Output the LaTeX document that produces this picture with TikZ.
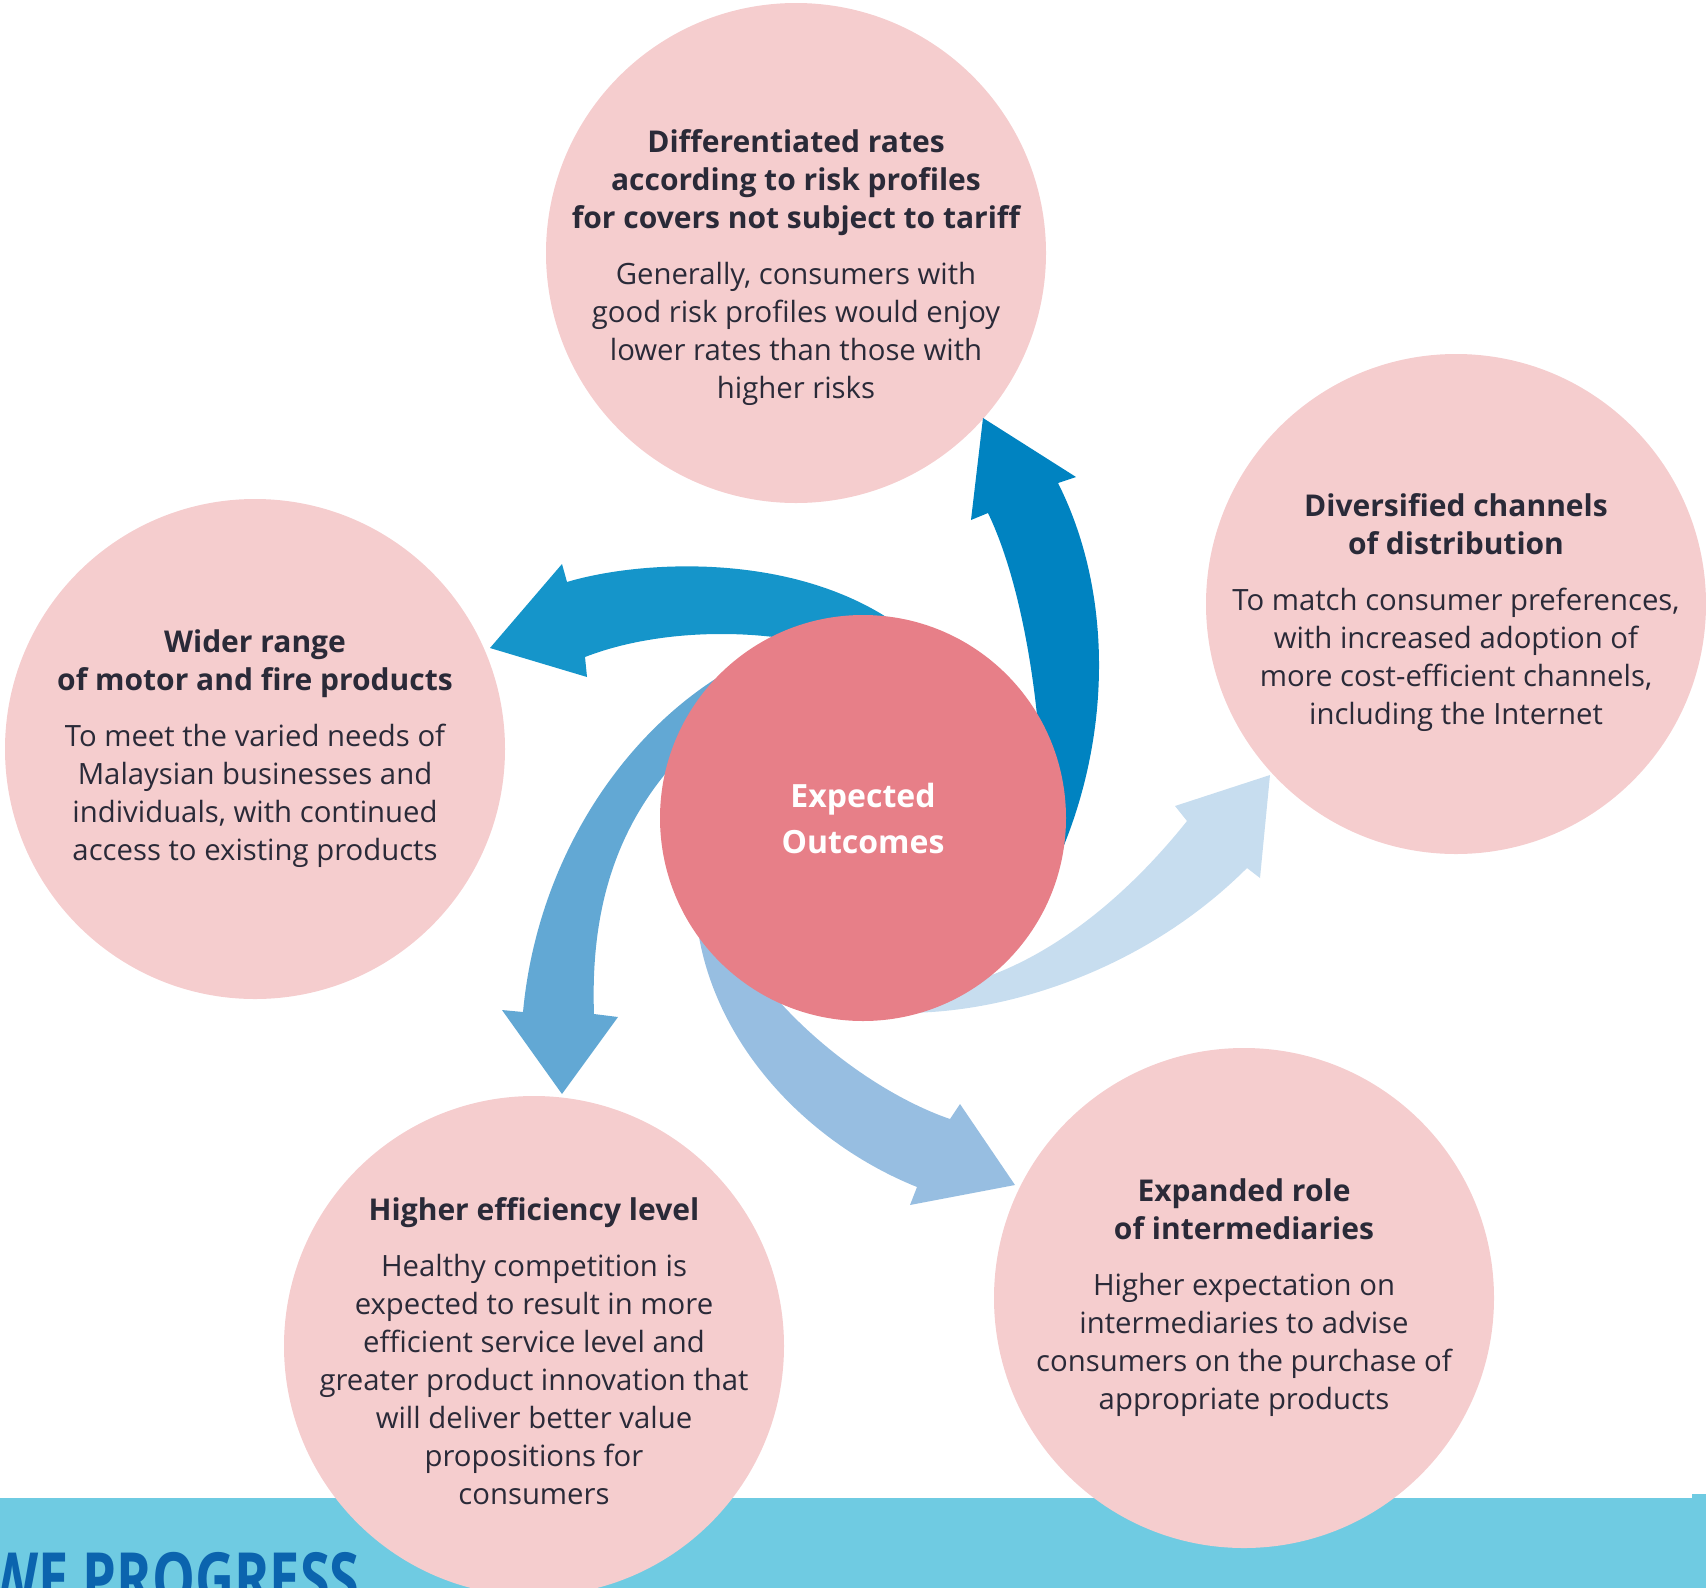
\documentclass[tikz,border=0pt]{standalone}
\usepackage{fontspec}
\usepackage{graphicx}
\setmainfont{Open Sans}
\definecolor{bubblec}{HTML}{F5CDCE}
\definecolor{hubc}{HTML}{E77F88}
\definecolor{txtc}{HTML}{2A2A38}
\definecolor{aone}{HTML}{0083C1}
\definecolor{atwo}{HTML}{1595CA}
\definecolor{athree}{HTML}{62A8D4}
\definecolor{afour}{HTML}{97BEE1}
\definecolor{afive}{HTML}{C7DDEF}
\definecolor{bannerc}{HTML}{6FCBE2}
\definecolor{wpc}{HTML}{0B64AE}
\newcommand{\ttl}[1]{{\fontsize{30}{37}\selectfont\bfseries #1}}
\begin{document}
\begin{tikzpicture}[x=1pt,y=-1pt,
  bubble/.style={circle, fill=bubblec, minimum size=500pt, inner sep=0pt,
    align=center, text=txtc, font=\fontsize{29.3}{38}\selectfont},
  btext/.style={align=center, text=txtc, inner sep=0pt, font=\fontsize{29.3}{38}\selectfont},
  hub/.style={circle, fill=hubc, minimum size=406pt, inner sep=0pt,
    align=center, text=white, font=\bfseries\fontsize{32}{46}\selectfont}]
\useasboundingbox (0,0) rectangle (1706,1588);
% banner
\fill[bannerc] (0,1498) rectangle (1706,1588);
\fill[bannerc] (1692,1494) rectangle (1706,1498);
\node[anchor=base west, inner sep=0pt, text=wpc, font=\bfseries\fontsize{72}{72}\selectfont] (wp) at (-14,1604) {\scalebox{0.75}[1]{WE PROGRESS}};
% bubbles
\node[bubble] (T) at (796,253) {};
\node[bubble] (R) at (1456,604) {};
\node[bubble] (L) at (255,749) {};
\node[bubble] (BL) at (534,1346) {};
\node[bubble] (BR) at (1244,1298) {};
\node[btext] (Tt) at ([yshift=-15pt]T.center) {\ttl{Differentiated rates}\\\ttl{according to risk profiles}\\\ttl{for covers not subject to tariff}\\[18pt]Generally, consumers with\\good risk profiles would enjoy\\lower rates than those with\\higher risks};
\node[btext] (Rt) at ([yshift=-9pt]R.center) {\ttl{Diversified channels}\\\ttl{of distribution}\\[18pt]To match consumer preferences,\\with increased adoption of\\more cost-efficient channels,\\including the Internet};
\node[btext] (Lt) at (L.center) {\ttl{Wider range}\\\ttl{of motor and fire products}\\[18pt]To meet the varied needs of\\Malaysian businesses and\\individuals, with continued\\access to existing products};
\node[btext] (BLt) at ([yshift=-5pt]BL.center) {\ttl{Higher efficiency level}\\[18pt]Healthy competition is\\expected to result in more\\efficient service level and\\greater product innovation that\\will deliver better value\\propositions for\\consumers};
\node[btext] (BRt) at (BR.center) {\ttl{Expanded role}\\\ttl{of intermediaries}\\[18pt]Higher expectation on\\intermediaries to advise\\consumers on the purchase of\\appropriate products};
% arrows
\fill[aone] (1062,850) .. controls (1112,730) and (1112,590) .. (1058,483) -- (1076,477) -- (983,418) -- (971,520) -- (988,513) .. controls (1030,600) and (1048,760) .. (1040,850) -- cycle;
\fill[atwo] (905,630) .. controls (800,550) and (640,560) .. (567,582) -- (562,564) -- (490,648) -- (587,677) -- (585,657) .. controls (680,620) and (820,630) .. (880,670) -- cycle;
\fill[athree] (800,640) .. controls (660,680) and (540,830) .. (523,1012) -- (502,1010) -- (562,1094) -- (618,1017) -- (594,1014) .. controls (590,900) and (620,800) .. (720,720) -- cycle;
\fill[afour] (740,950) .. controls (790,1030) and (880,1095) .. (950,1119) -- (960,1104) -- (1015,1185) -- (910,1205) -- (917,1187) .. controls (800,1140) and (700,1030) .. (695,900) -- cycle;
\fill[afive] (960,985) .. controls (1040,965) and (1120,905) .. (1187,821) -- (1175,806) -- (1270,775) -- (1260,878) -- (1247,868) .. controls (1140,975) and (990,1020) .. (880,1012) -- cycle;
% hub
\node[hub] (C) at (863,818) {Expected\\Outcomes};
\end{tikzpicture}
\end{document}
